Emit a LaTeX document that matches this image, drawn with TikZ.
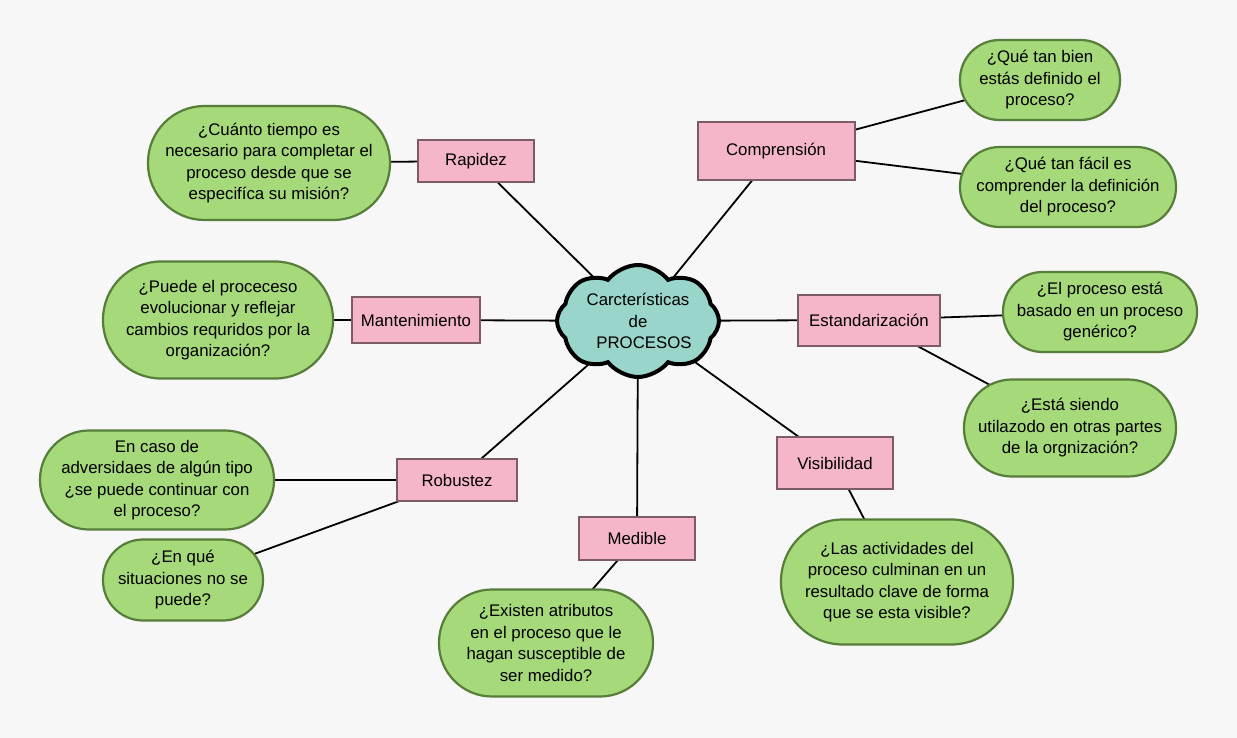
\documentclass[tikz,border=0pt]{standalone}
\usepackage{fontspec}
\setmainfont{Liberation Sans}
\usetikzlibrary{shapes.symbols}
\definecolor{paper}{HTML}{F7F7F7}
\definecolor{boxfill}{HTML}{F4B6C8}
\definecolor{boxline}{HTML}{7D5C66}
\definecolor{qfill}{HTML}{A6D97A}
\definecolor{qline}{HTML}{567D3A}
\definecolor{cloudfill}{HTML}{99D5CA}
\pgfdeclarelayer{backdrop}
\pgfdeclarelayer{links}
\pgfsetlayers{backdrop,links,main}

\begin{document}
\begin{tikzpicture}[x=1pt,y=1pt,
  every node/.style={font=\fontsize{16.8}{21.5}\selectfont, align=center, inner sep=0pt},
  feature/.style 2 args={draw=boxline, fill=boxfill, line width=2pt, minimum width=#1, minimum height=#2},
  query/.style 2 args={draw=qline, fill=qfill, line width=2.2pt, minimum width=#1, minimum height=#2, rounded corners=#2/2-0.5},
  link/.style={line width=1.8pt}]
\begin{pgfonlayer}{backdrop}
\fill [paper] (0,0) rectangle (1237,-738);
\end{pgfonlayer}
\node [cloud, draw, fill=cloudfill, line width=4pt, cloud puffs=8, cloud puff arc=105, aspect=1.45, inner xsep=-14pt, inner ysep=-16pt, minimum width=162, minimum height=112] (core) at (638,-321) {Carcterísticas\\de\\\hspace*{12pt}PROCESOS};
\node [feature={116}{42}] (rap) at (476,-161) {Rapidez};
\node [feature={128}{46}] (man) at (416,-320) {Mantenimiento};
\node [feature={157}{58}] (com) at (776,-151) {Comprensión};
\node [feature={142}{51}] (est) at (869,-320) {Estandarización};
\node [feature={116}{52}] (vis) at (835,-463) {Visibilidad};
\node [feature={116}{43}] (med) at (637,-538) {Medible};
\node [feature={120}{42}] (rob) at (457,-480) {Robustez};
\node [query={242}{114}] (rapq) at (269,-163) {¿Cuánto tiempo es\\necesario para completar el\\proceso desde que se\\especifíca su misión?};
\node [query={230}{117}] (manq) at (218,-320) {¿Puede el proceceso\\evolucionar y reflejar\\cambios requridos por la\\organización?};
\node [query={160}{80}] (comqa) at (1040,-80) {¿Qué tan bien\\estás definido el\\proceso?};
\node [query={216}{80}] (comqb) at (1068,-187) {¿Qué tan fácil es\\comprender la definición\\del proceso?};
\node [query={194}{80}] (estqa) at (1100,-312) {¿El proceso está\\basado en un proceso\\genérico?};
\node [query={212}{97}] (estqb) at (1070,-428) {¿Está siendo\\utilazodo en otras partes\\de la orgnización?};
\node [query={232}{125}] (visq) at (897,-582) {¿Las actividades del\\proceso culminan en un\\resultado clave de forma\\que se esta visible?};
\node [query={214}{107}] (medq) at (546,-643) {¿Existen atributos\\en el proceso que le\\hagan susceptible de\\ser medido?};
\node [query={234}{99}] (robqa) at (157,-480) {En caso de\\adversidaes de algún tipo\\¿se puede continuar con\\el proceso?};
\node [query={160}{81}] (robqb) at (183,-580) {¿En qué\\situaciones no se\\puede?};
\begin{pgfonlayer}{links}
\draw [link] (core.center) -- (rap.center);
\draw [link] (core.center) -- (man.center);
\draw [link] (core.center) -- (com.center);
\draw [link] (core.center) -- (est.center);
\draw [link] (core.center) -- (vis.center);
\draw [link] (core.center) -- (med.center);
\draw [link] (core.center) -- (rob.center);
\draw [link] (rap.center) -- (rapq.center);
\draw [link] (man.center) -- (manq.center);
\draw [link] (com.center) -- (comqa.center);
\draw [link] (com.center) -- (comqb.center);
\draw [link] (est.center) -- (estqa.center);
\draw [link] (est.center) -- (estqb.center);
\draw [link] (vis.center) -- (visq.center);
\draw [link] (med.center) -- (medq.center);
\draw [link] (rob.center) -- (robqa.center);
\draw [link] (rob.center) -- (robqb.center);
\end{pgfonlayer}
\end{tikzpicture}
\end{document}
